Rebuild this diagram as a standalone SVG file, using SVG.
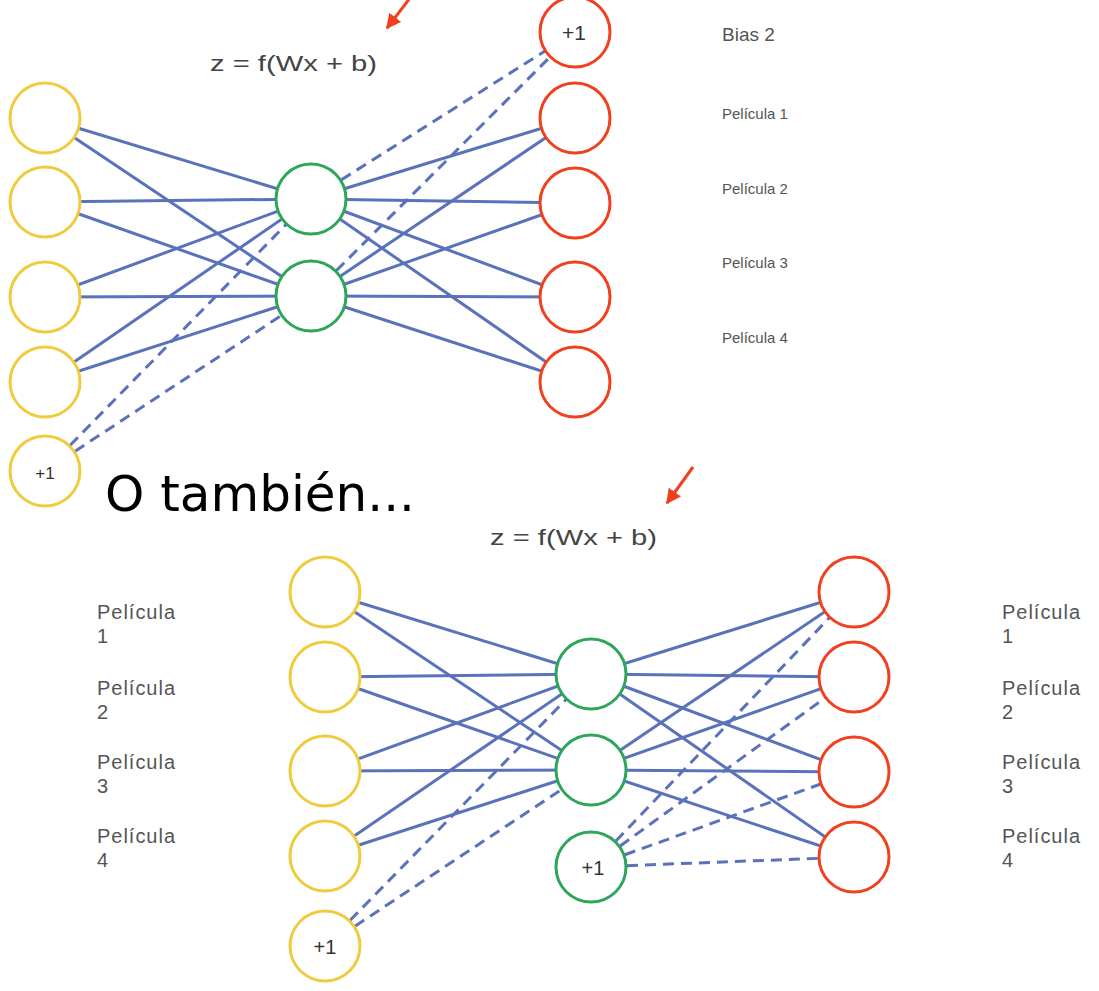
<svg xmlns="http://www.w3.org/2000/svg" width="1099" height="991" viewBox="0 0 1099 991">
<style>
.c{fill:#fff;stroke-width:3}
.y{stroke:#EFCB3E}
.g{stroke:#2EA65A}
.r{stroke:#F2401F}
.s{stroke:#5A72BA;stroke-width:3;fill:none}
.d{stroke:#5A72BA;stroke-width:3;fill:none;stroke-dasharray:11 7}
.lbl{font-family:"Liberation Sans",Arial,sans-serif;fill:#555}
.one{font-family:"Liberation Sans",Arial,sans-serif;fill:#333;text-anchor:middle}
.f{font-family:"Liberation Sans",Arial,sans-serif;fill:#444;font-size:22px}
</style>
<defs>
<marker id="ah" viewBox="0 0 10 10" refX="9" refY="5" markerWidth="5" markerHeight="5" orient="auto" markerUnits="strokeWidth">
<path d="M0,0 L10,5 L0,10 z" fill="#F2401F"/>
</marker>
</defs>
<rect width="1099" height="991" fill="#fff"/>
<g id="connectors">
<line class="s" x1="45" y1="118" x2="311" y2="199"/>
<line class="s" x1="45" y1="118" x2="311" y2="296"/>
<line class="s" x1="45" y1="202" x2="311" y2="199"/>
<line class="s" x1="45" y1="202" x2="311" y2="296"/>
<line class="s" x1="45" y1="297" x2="311" y2="199"/>
<line class="s" x1="45" y1="297" x2="311" y2="296"/>
<line class="s" x1="45" y1="382" x2="311" y2="199"/>
<line class="s" x1="45" y1="382" x2="311" y2="296"/>
<line class="d" x1="45" y1="471" x2="311" y2="199"/>
<line class="d" x1="45" y1="471" x2="311" y2="296"/>
<line class="s" x1="311" y1="199" x2="575" y2="118"/>
<line class="s" x1="311" y1="199" x2="575" y2="203"/>
<line class="s" x1="311" y1="199" x2="575" y2="297"/>
<line class="s" x1="311" y1="199" x2="575" y2="382"/>
<line class="s" x1="311" y1="296" x2="575" y2="118"/>
<line class="s" x1="311" y1="296" x2="575" y2="203"/>
<line class="s" x1="311" y1="296" x2="575" y2="297"/>
<line class="s" x1="311" y1="296" x2="575" y2="382"/>
<line class="d" x1="311" y1="199" x2="575" y2="32"/>
<line class="d" x1="311" y1="296" x2="575" y2="32"/>
<line class="s" x1="325" y1="592" x2="591" y2="674"/>
<line class="s" x1="325" y1="592" x2="591" y2="770"/>
<line class="s" x1="325" y1="677" x2="591" y2="674"/>
<line class="s" x1="325" y1="677" x2="591" y2="770"/>
<line class="s" x1="325" y1="771" x2="591" y2="674"/>
<line class="s" x1="325" y1="771" x2="591" y2="770"/>
<line class="s" x1="325" y1="856" x2="591" y2="674"/>
<line class="s" x1="325" y1="856" x2="591" y2="770"/>
<line class="d" x1="325" y1="946" x2="591" y2="674"/>
<line class="d" x1="325" y1="946" x2="591" y2="770"/>
<line class="s" x1="591" y1="674" x2="854" y2="592"/>
<line class="s" x1="591" y1="674" x2="854" y2="677"/>
<line class="s" x1="591" y1="674" x2="854" y2="772"/>
<line class="s" x1="591" y1="674" x2="854" y2="857"/>
<line class="s" x1="591" y1="770" x2="854" y2="592"/>
<line class="s" x1="591" y1="770" x2="854" y2="677"/>
<line class="s" x1="591" y1="770" x2="854" y2="772"/>
<line class="s" x1="591" y1="770" x2="854" y2="857"/>
<line class="d" x1="591" y1="867" x2="854" y2="592"/>
<line class="d" x1="591" y1="867" x2="854" y2="677"/>
<line class="d" x1="591" y1="867" x2="854" y2="772"/>
<line class="d" x1="591" y1="867" x2="854" y2="857"/>
<line x1="410" y1="-2" x2="387" y2="28" stroke="#F2401F" stroke-width="3" marker-end="url(#ah)"/>
<line x1="693" y1="467" x2="667" y2="503" stroke="#F2401F" stroke-width="3" marker-end="url(#ah)"/>
</g>
<g id="top-in1"><circle class="c y" cx="45" cy="118" r="35"/></g>
<g id="top-in2"><circle class="c y" cx="45" cy="202" r="35"/></g>
<g id="top-in3"><circle class="c y" cx="45" cy="297" r="35"/></g>
<g id="top-in4"><circle class="c y" cx="45" cy="382" r="35"/></g>
<g id="top-bias1"><circle class="c y" cx="45" cy="471" r="35"/><text class="one" x="45" y="479" font-size="17">+1</text></g>
<g id="top-h1"><circle class="c g" cx="311" cy="199" r="35"/></g>
<g id="top-h2"><circle class="c g" cx="311" cy="296" r="35"/></g>
<g id="top-bias2"><circle class="c r" cx="575" cy="32" r="35"/><text class="one" x="574" y="40" font-size="21">+1</text></g>
<g id="top-out1"><circle class="c r" cx="575" cy="118" r="35"/></g>
<g id="top-out2"><circle class="c r" cx="575" cy="203" r="35"/></g>
<g id="top-out3"><circle class="c r" cx="575" cy="297" r="35"/></g>
<g id="top-out4"><circle class="c r" cx="575" cy="382" r="35"/></g>
<g id="top-labels">
<text class="f" x="210" y="71" textLength="167" lengthAdjust="spacingAndGlyphs">z = f(Wx + b)</text>
<text class="lbl" x="722" y="41" font-size="19">Bias 2</text>
<text class="lbl" x="722" y="119" font-size="15">Película 1</text>
<text class="lbl" x="722" y="194" font-size="15">Película 2</text>
<text class="lbl" x="722" y="268" font-size="15">Película 3</text>
<text class="lbl" x="722" y="343" font-size="15">Película 4</text>
</g>
<g id="title"><text x="105" y="511" font-family="DejaVu Sans,sans-serif" font-size="50" fill="#000">O también...</text></g>
<g id="bot-in1"><circle class="c y" cx="325" cy="592" r="35"/></g>
<g id="bot-in2"><circle class="c y" cx="325" cy="677" r="35"/></g>
<g id="bot-in3"><circle class="c y" cx="325" cy="771" r="35"/></g>
<g id="bot-in4"><circle class="c y" cx="325" cy="856" r="35"/></g>
<g id="bot-bias1"><circle class="c y" cx="325" cy="946" r="35"/><text class="one" x="325" y="954" font-size="20">+1</text></g>
<g id="bot-h1"><circle class="c g" cx="591" cy="674" r="35"/></g>
<g id="bot-h2"><circle class="c g" cx="591" cy="770" r="35"/></g>
<g id="bot-hbias"><circle class="c g" cx="591" cy="867" r="35"/><text class="one" x="593" y="875" font-size="20">+1</text></g>
<g id="bot-out1"><circle class="c r" cx="854" cy="592" r="35"/></g>
<g id="bot-out2"><circle class="c r" cx="854" cy="677" r="35"/></g>
<g id="bot-out3"><circle class="c r" cx="854" cy="772" r="35"/></g>
<g id="bot-out4"><circle class="c r" cx="854" cy="857" r="35"/></g>
<g id="bot-labels">
<text class="f" x="490" y="545" textLength="167" lengthAdjust="spacingAndGlyphs">z = f(Wx + b)</text>
<text class="lbl" font-size="20"><tspan x="97" y="619" textLength="78">Película</tspan><tspan x="97" y="643">1</tspan></text>
<text class="lbl" font-size="20"><tspan x="97" y="695" textLength="78">Película</tspan><tspan x="97" y="719">2</tspan></text>
<text class="lbl" font-size="20"><tspan x="97" y="769" textLength="78">Película</tspan><tspan x="97" y="793">3</tspan></text>
<text class="lbl" font-size="20"><tspan x="97" y="843" textLength="78">Película</tspan><tspan x="97" y="867">4</tspan></text>
<text class="lbl" font-size="20"><tspan x="1002" y="619" textLength="78">Película</tspan><tspan x="1002" y="643">1</tspan></text>
<text class="lbl" font-size="20"><tspan x="1002" y="695" textLength="78">Película</tspan><tspan x="1002" y="719">2</tspan></text>
<text class="lbl" font-size="20"><tspan x="1002" y="769" textLength="78">Película</tspan><tspan x="1002" y="793">3</tspan></text>
<text class="lbl" font-size="20"><tspan x="1002" y="843" textLength="78">Película</tspan><tspan x="1002" y="867">4</tspan></text>
</g>
</svg>
